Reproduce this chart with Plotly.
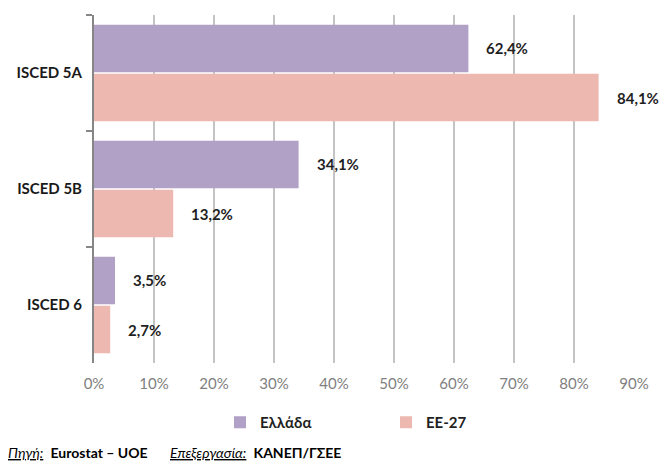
"""Horizontal grouped bars: ISCED levels, Greece vs EU-27."""

import plotly.graph_objects as go

categories = ["ISCED 5A", "ISCED 5B", "ISCED 6"]
series_names = ["Ελλάδα", "ΕΕ-27"]
greece = [62.4, 34.1, 3.5]
eu27 = [84.1, 13.2, 2.7]
x_ticks = [0, 10, 20, 30, 40, 50, 60, 70, 80, 90]

colors = {"Ελλάδα": "#b2a1c7", "ΕΕ-27": "#edb8b0"}
FONT = "Lato"

# plot area in pixels (used to place the text outside it)
L, R, T, B = 94, 30, 15, 99
PLOT_W = 664 - L - R
PLOT_H = 462 - T - B


def pct(v):
    return f"{v:.1f}".replace(".", ",") + "%"


def px_x(px):
    return (px - L) / PLOT_W


def px_y(py):
    return (462 - B - py) / PLOT_H


fig = go.Figure()
for name, vals in zip(series_names, [greece, eu27]):
    fig.add_trace(
        go.Bar(
            y=categories,
            x=vals,
            name=name,
            orientation="h",
            marker_color=colors[name],
            marker_line_width=0,
        )
    )

# value labels, set a little to the right of each bar end
for vals, shift in [(greece, 25), (eu27, -25)]:
    for cat, v in zip(categories, vals):
        fig.add_annotation(
            x=v,
            y=cat,
            text=f"<b>{pct(v)}</b>",
            showarrow=False,
            xanchor="left",
            xshift=16,
            yshift=shift,
            font={"family": FONT, "size": 15, "color": "#1f1f1f"},
        )

# source line
fig.add_annotation(
    x=px_x(6), y=px_y(452), xref="paper", yref="paper",
    text="<i><u>Πηγή:</u></i>  <b>Eurostat – UOE</b>",
    showarrow=False, xanchor="left", yanchor="middle",
    font={"family": FONT, "size": 14, "color": "#000000"},
)
fig.add_annotation(
    x=px_x(168), y=px_y(452), xref="paper", yref="paper",
    text="<i><u>Επεξεργασία:</u></i>  <b>ΚΑΝΕΠ/ΓΣΕΕ</b>",
    showarrow=False, xanchor="left", yanchor="middle",
    font={"family": FONT, "size": 14, "color": "#000000"},
)

fig.update_layout(
    width=664,
    height=462,
    barmode="group",
    bargap=0.155,
    bargroupgap=0.03,
    plot_bgcolor="white",
    paper_bgcolor="white",
    margin={"l": L, "r": R, "t": T, "b": B, "autoexpand": False},
    font={"family": FONT, "size": 14},
    showlegend=True,
    legend={
        "orientation": "h",
        "x": px_x(220),
        "xanchor": "left",
        "y": px_y(406),
        "yanchor": "top",
        "entrywidth": 121,
        "entrywidthmode": "pixels",
        "traceorder": "normal",
        "font": {"family": FONT, "size": 15, "color": "#1f1f1f", "weight": "bold"},
        "itemwidth": 30,
    },
    xaxis={
        "range": [0, 90],
        "tickvals": x_ticks,
        "ticktext": [f"{t}%" for t in x_ticks],
        "showgrid": True,
        "gridcolor": "#c4c4c4",
        "gridwidth": 1.5,
        "zeroline": False,
        "showline": False,
        "ticks": "",
        "automargin": False,
        "ticklabelstandoff": 10,
        "tickfont": {"family": FONT, "size": 15, "color": "#808080"},
        "fixedrange": True,
    },
    yaxis={
        "autorange": "reversed",
        "automargin": False,
        "showline": True,
        "linecolor": "#868686",
        "linewidth": 2,
        "ticks": "outside",
        "tickson": "boundaries",
        "ticklen": 6,
        "tickcolor": "#868686",
        "tickwidth": 2,
        "showgrid": False,
        "ticklabelstandoff": 7,
        "tickfont": {"family": FONT, "size": 15, "color": "#1a1a1a", "weight": "bold"},
        "fixedrange": True,
    },
)

# the page's default body margin would push the figure 8px off
fig.write_html(
    "out.html",
    config={"displayModeBar": False},
    post_script="document.body.style.margin = '0';",
)
